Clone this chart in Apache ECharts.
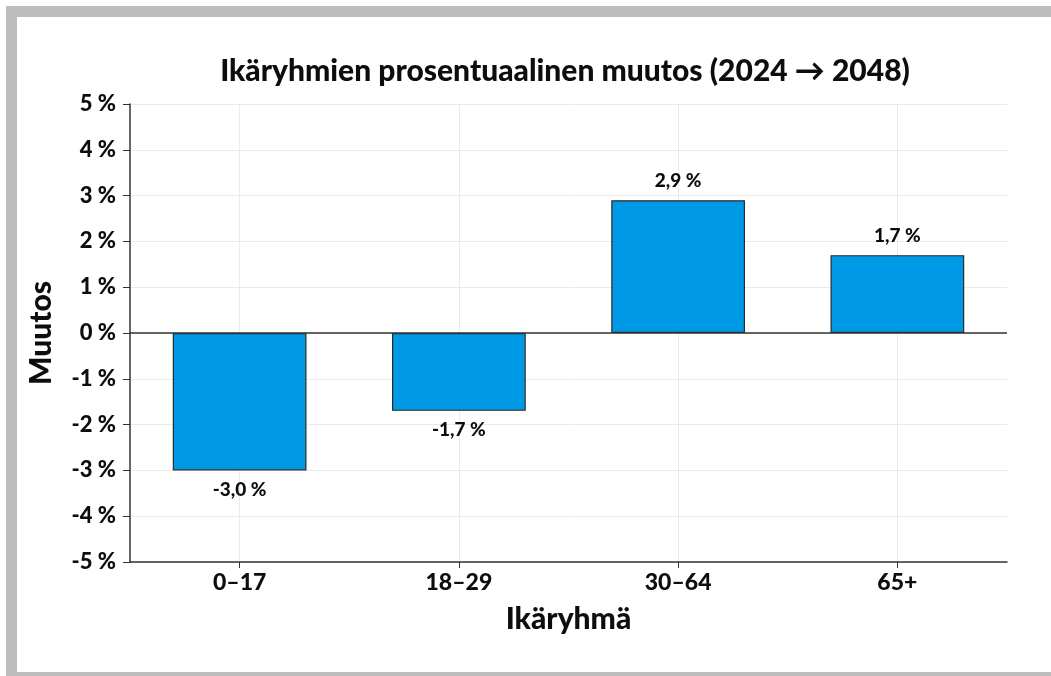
<!DOCTYPE html>
<html>
<head>
<meta charset="utf-8">
<script src="https://cdn.jsdelivr.net/npm/echarts@6/dist/echarts.min.js"></script>
<style>
html,body{margin:0;padding:0;background:#fff;width:1051px;height:676px;overflow:hidden;}
#frame{position:absolute;left:6px;top:6px;width:1045px;height:670px;box-sizing:border-box;border-top:11px solid #bdbdbd;border-left:11px solid #bdbdbd;border-bottom:4px solid #bdbdbd;}
#chart{position:absolute;left:0;top:0;width:1051px;height:676px;}
</style>
</head>
<body>
<div id="frame"></div>
<div id="chart"></div>
<script>
const titleText = 'Ikäryhmien prosentuaalinen muutos (2024 \u2192 2048)';
const categories = ['0\u201317', '18\u201329', '30\u201364', '65+'];
const changes = [-3.0, -1.7, 2.9, 1.7];
const yTicks = [-5, -4, -3, -2, -1, 0, 1, 2, 3, 4, 5];

const fmt = v => v.toFixed(1).replace('.', ',') + ' %';
const font = 'Lato, "Open Sans", sans-serif';
const W = 900;

const chart = echarts.init(document.getElementById('chart'), null, {renderer: 'canvas'});
chart.setOption({
  animation: false,
  title: {
    text: titleText, left: 560, top: 51, textAlign: 'center',
    textStyle: {fontFamily: font, fontWeight: W, fontSize: 30, color: '#0d0d0d'}
  },
  grid: {left: 130, right: 44, top: 104, bottom: 114, containLabel: false},
  xAxis: {
    type: 'category', data: categories,
    name: 'Ikäryhmä', nameLocation: 'middle', nameGap: 42,
    nameTextStyle: {fontFamily: font, fontWeight: W, fontSize: 30, color: '#0d0d0d'},
    axisLine: {onZero: false, lineStyle: {color: '#333', width: 1.5}},
    axisTick: {show: true, alignWithLabel: true, length: 6, lineStyle: {color: '#333'}},
    axisLabel: {fontFamily: font, fontWeight: W, fontSize: 23, color: '#0d0d0d', margin: 9},
    splitLine: {show: true, alignWithLabel: true, lineStyle: {color: '#ebebeb'}}
  },
  yAxis: {
    type: 'value', min: -5, max: 5, interval: 1,
    name: 'Muutos', nameLocation: 'middle', nameGap: 74, nameRotate: 90,
    nameTextStyle: {fontFamily: font, fontWeight: W, fontSize: 30, color: '#0d0d0d'},
    axisLine: {show: true, lineStyle: {color: '#333', width: 1.5}},
    axisTick: {show: true, length: 7, lineStyle: {color: '#333'}},
    axisLabel: {fontFamily: font, fontWeight: W, fontSize: 22, color: '#0d0d0d', margin: 14,
      formatter: v => yTicks.includes(v) ? v + ' %' : ''},
    splitLine: {show: true, lineStyle: {color: '#ebebeb'}}
  },
  series: [{
    type: 'bar', data: changes, barWidth: '61%',
    itemStyle: {color: '#0099e6', borderColor: '#2b2b2b', borderWidth: 1.2},
    label: {
      show: true, position: 'outside', distance: 10,
      fontFamily: font, fontWeight: W, fontSize: 19, color: '#0d0d0d',
      formatter: p => fmt(p.value)
    },
    markLine: {
      silent: true, symbol: 'none', label: {show: false},
      lineStyle: {color: '#333', width: 1.5, type: 'solid'},
      data: [{yAxis: 0}]
    }
  }]
});
</script>
</body>
</html>
